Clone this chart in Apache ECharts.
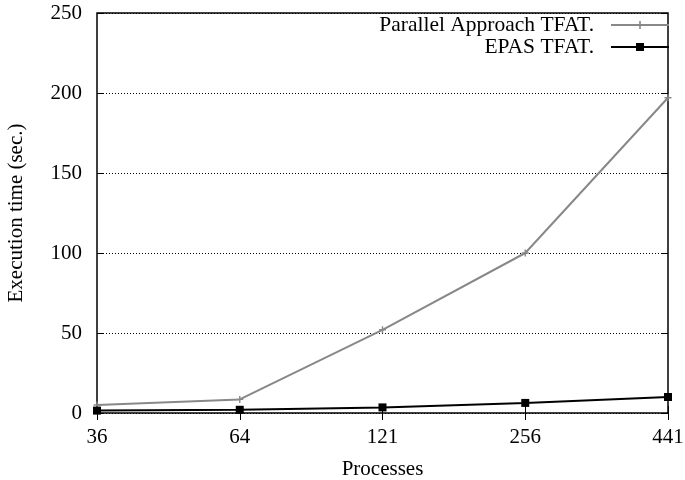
<!DOCTYPE html>
<html>
<head>
<meta charset="utf-8">
<script src="https://cdn.jsdelivr.net/npm/echarts@6/dist/echarts.min.js"></script>
<style>
  html, body { margin: 0; padding: 0; background: #fff; }
  #main { width: 685px; height: 480px; }
</style>
</head>
<body>
<div id="main"></div>
<script>
var processes = ['36', '64', '121', '256', '441'];
var parallelTfat = [5, 8.5, 52, 100, 197];
var epasTfat = [1.5, 2, 3.5, 6.3, 10];
var yTicks = [0, 50, 100, 150, 200, 250];

var myChart = echarts.init(document.getElementById('main'));
var font = '"Liberation Serif", "DejaVu Serif", serif';
var plus = 'path://M4,0H6V4H10V6H6V10H4V6H0V4H4Z';

var option = {
    animation: false,
    textStyle: { fontFamily: font },
    grid: {
        left: 97, right: 17, top: 13, bottom: 67,
        outerBoundsMode: 'none', containLabel: false,
        show: true, borderColor: '#000', borderWidth: 1.5
    },
    legend: {
        orient: 'vertical', right: 10, top: 9, align: 'right',
        itemGap: 0, itemWidth: 58, itemHeight: 10,
        textStyle: { fontFamily: font, fontSize: 21.5, color: '#000', padding: [0, 12, 0, 0] },
        data: ['Parallel Approach TFAT.', 'EPAS TFAT.']
    },
    xAxis: [{
        type: 'category', data: processes, boundaryGap: false,
        name: 'Processes', nameLocation: 'middle', nameGap: 46,
        nameTextStyle: { fontFamily: font, fontSize: 21, color: '#000' },
        axisLine: { show: false },
        axisTick: { inside: true, length: 7, lineStyle: { color: '#000' } },
        axisLabel: { fontFamily: font, fontSize: 21, color: '#000', margin: 14 },
        splitLine: { show: false }
    }, {
        type: 'category', data: processes, boundaryGap: false, position: 'top',
        axisLine: { show: false },
        axisTick: { inside: true, length: 7, lineStyle: { color: '#000' } },
        axisLabel: { show: false }
    }],
    yAxis: [{
        type: 'value', min: 0, max: 250, interval: 50,
        name: 'Execution time (sec.)', nameLocation: 'middle', nameGap: 70,
        nameTextStyle: { fontFamily: font, fontSize: 21, color: '#000' },
        axisLine: { show: false },
        axisTick: { show: true, inside: true, length: 7, lineStyle: { color: '#000' } },
        axisLabel: { fontFamily: font, fontSize: 21, color: '#000', margin: 15 },
        splitLine: { show: true, lineStyle: { color: '#000', type: [1, 2], width: 1 } }
    }, {
        type: 'value', min: 0, max: 250, interval: 50, position: 'right',
        axisLine: { show: false },
        axisTick: { show: true, inside: true, length: 7, lineStyle: { color: '#000' } },
        axisLabel: { show: false },
        splitLine: { show: false }
    }],
    series: [{
        name: 'Parallel Approach TFAT.', type: 'line', data: parallelTfat,
        symbol: plus, symbolSize: 7, showAllSymbol: true,
        lineStyle: { color: '#888', width: 2 },
        itemStyle: { color: '#888' }
    }, {
        name: 'EPAS TFAT.', type: 'line', data: epasTfat,
        symbol: 'rect', symbolSize: 8, showAllSymbol: true,
        lineStyle: { color: '#000', width: 2 },
        itemStyle: { color: '#000' }
    }]
};
myChart.setOption(option);
window.addEventListener('resize', function () {
    myChart.resize();
});
</script>
</body>
</html>
